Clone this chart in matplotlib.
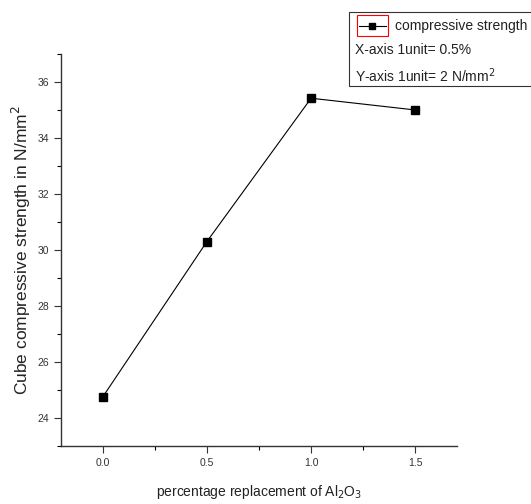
import matplotlib.pyplot as plt
from matplotlib.lines import Line2D
from matplotlib.patches import Rectangle
from matplotlib.ticker import MultipleLocator

plt.rcParams['font.family'] = ['Liberation Sans', 'DejaVu Sans']

# dados
replacement = [0.0, 0.5, 1.0, 1.5]
strength = [24.75, 30.3, 35.42, 35.0]
x_ticks = [0.0, 0.5, 1.0, 1.5]
y_ticks = [24, 26, 28, 30, 32, 34, 36]

fig = plt.figure(figsize=(5.31, 5.04), dpi=100)
ax = fig.add_axes([0.1149, 0.1151, 0.7457, 0.7778])

ax.plot(replacement, strength, color='black', linewidth=0.8,
        marker='s', markersize=5.5, markerfacecolor='black',
        markeredgecolor='black')

ax.set_xlim(-0.2, 1.7)
ax.set_ylim(23, 37)
ax.set_xticks(x_ticks)
ax.set_xticklabels(['%.1f' % v for v in x_ticks])
ax.set_yticks(y_ticks)
ax.xaxis.set_minor_locator(MultipleLocator(0.25))
ax.yaxis.set_minor_locator(MultipleLocator(1))
ax.tick_params(which='major', direction='out', length=5, width=0.8,
               labelsize=7.5, colors='#333333')
ax.tick_params(which='minor', direction='out', length=3, width=0.8)
ax.spines['top'].set_visible(False)
ax.spines['right'].set_visible(False)
for s in ['left', 'bottom']:
    ax.spines[s].set_linewidth(1.0)
    ax.spines[s].set_color('#333333')

ax.set_xlabel('percentage replacement of Al$_2$O$_3$', fontsize=10,
              labelpad=11, color='#222222')
ax.set_ylabel('Cube compressive strength in N/mm$^2$', fontsize=12.5,
              labelpad=3, color='#222222')

# caixa da legenda (estilo Origin)
fig.patches.append(Rectangle((0.657, 0.829), 0.36, 0.147, transform=fig.transFigure,
                             facecolor='white', edgecolor='#333333', linewidth=0.8))
fig.patches.append(Rectangle((0.672, 0.929), 0.059, 0.042, transform=fig.transFigure,
                             facecolor='none', edgecolor='red', linewidth=0.8))
fig.lines.append(Line2D([0.676, 0.695], [0.949, 0.949], transform=fig.transFigure,
                        color='black', linewidth=0.8))
fig.lines.append(Line2D([0.708, 0.727], [0.949, 0.949], transform=fig.transFigure,
                        color='black', linewidth=0.8))
fig.lines.append(Line2D([0.7015], [0.949], transform=fig.transFigure,
                        color='black', marker='s', markersize=5, linestyle='none'))
fig.text(0.744, 0.949, 'compressive strength', fontsize=10, va='center', ha='left',
         color='#222222')
fig.text(0.669, 0.900, 'X-axis 1unit= 0.5%', fontsize=10, va='center', ha='left',
         color='#222222')
fig.text(0.669, 0.849, 'Y-axis 1unit= 2 N/mm$^2$', fontsize=10, va='center', ha='left',
         color='#222222')

plt.savefig('out.png', dpi=100)
